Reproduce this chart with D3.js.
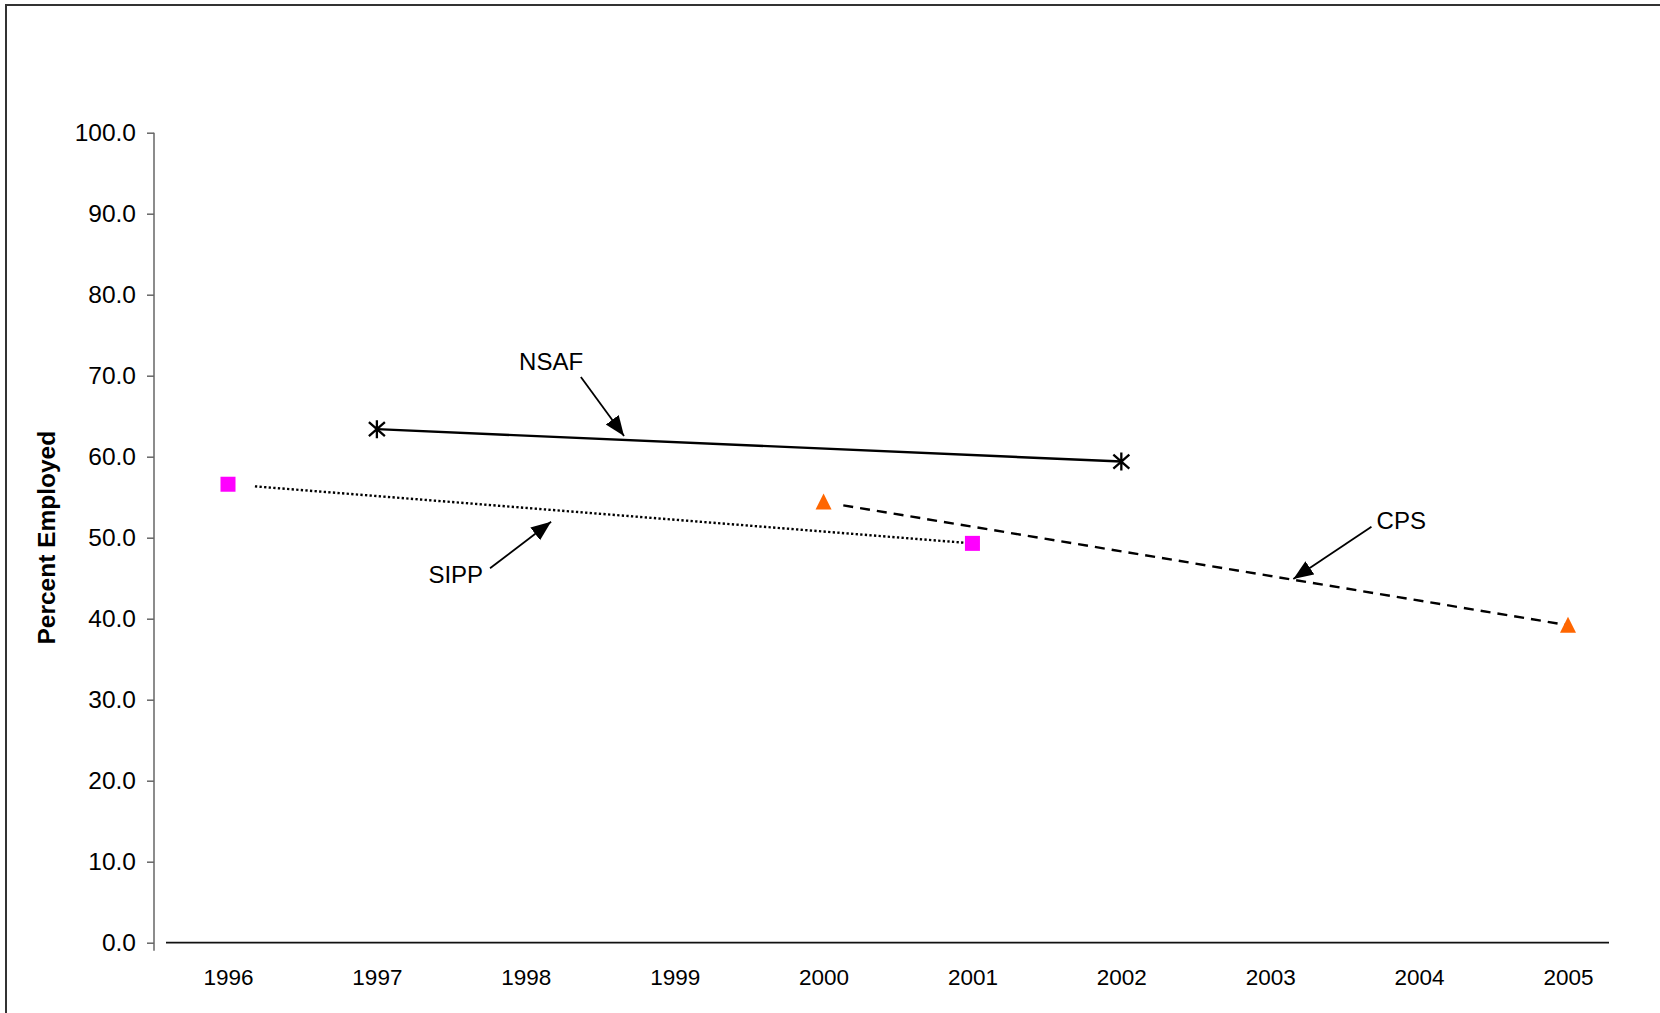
<!DOCTYPE html>
<html>
<head>
<meta charset="utf-8">
<script src="https://cdn.jsdelivr.net/npm/d3@7"></script>
<style>
  html, body { margin: 0; padding: 0; background: #fff; }
  svg { display: block; font-family: "Liberation Sans", Arial, sans-serif; }
</style>
</head>
<body>
<svg id="chart" width="1660" height="1013"></svg>
<script>
// ---- data ----
const years = [1996, 1997, 1998, 1999, 2000, 2001, 2002, 2003, 2004, 2005];
const yTicks = [0, 10, 20, 30, 40, 50, 60, 70, 80, 90, 100];
const nsafYears = [1997, 2002];
const nsafValues = [63.4, 59.4];
const sippYears = [1996, 2001];
const sippValues = [56.6, 49.3];
const cpsYears = [2000, 2005];
const cpsValues = [54.4, 39.2];
// annotations: label, text anchor (year, value), arrow tail and tip (year, value)
const annoLabels = ["NSAF", "SIPP", "CPS"];
const annoText = [[1998.17, 70.7], [1997.53, 44.46], [2003.88, 51.04]];
const annoTail = [[1998.37, 69.85], [1997.76, 46.22], [2003.68, 51.36]];
const annoTip  = [[1998.66, 62.56], [1998.17, 51.98], [2003.155, 44.9]];

// ---- layout ----
const svg = d3.select("#chart");
const x = d3.scaleLinear().domain([1996, 2005]).range([228, 1568]);
const y = d3.scaleLinear().domain([0, 100]).range([942.7, 132.7]);
const axisX = 154;

// outer frame
svg.append("rect").attr("x", 6).attr("y", 5).attr("width", 1720).attr("height", 1100)
  .attr("fill", "none").attr("stroke", "#333").attr("stroke-width", 2);

// y axis
const yAxis = d3.axisLeft(y).tickValues(yTicks).tickSize(7).tickPadding(11)
  .tickFormat(d3.format(".1f"));
const gy = svg.append("g").attr("transform", `translate(${axisX},0)`).call(yAxis);
gy.select(".domain").remove();
gy.append("line").attr("x1", 0).attr("x2", 0).attr("y1", y(100)).attr("y2", y(0) + 8)
  .attr("stroke", "#666").attr("stroke-width", 1.5);
gy.selectAll(".tick line").attr("stroke", "#666").attr("stroke-width", 1.5);
gy.selectAll(".tick text").attr("fill", "#000").attr("font-size", 24.5)
  .attr("font-family", "'Liberation Sans', Arial, sans-serif");

// x axis
const xAxis = d3.axisBottom(x).tickValues(years).tickSize(0).tickPadding(26)
  .tickFormat(d3.format("d"));
const gx = svg.append("g").attr("transform", `translate(0,${y(0)})`).call(xAxis);
gx.select(".domain").remove();
gx.append("line").attr("x1", 166).attr("x2", 1609).attr("y1", 0).attr("y2", 0)
  .attr("stroke", "#111").attr("stroke-width", 1.8);
gx.selectAll(".tick text").attr("fill", "#000").attr("font-size", 22.5)
  .attr("font-family", "'Liberation Sans', Arial, sans-serif");

// y title
svg.append("text")
  .attr("transform", `translate(55,${(y(0) + y(100)) / 2 + 0}) rotate(-90)`)
  .attr("text-anchor", "middle").attr("font-weight", "bold").attr("font-size", 24.5)
  .text("Percent Employed");

// helper: line between two data points, with a trimmed start (in px)
function seg(xs, vs, trimStart) {
  const x0 = x(xs[0]), y0 = y(vs[0]), x1 = x(xs[1]), y1 = y(vs[1]);
  const len = Math.hypot(x1 - x0, y1 - y0);
  const t = trimStart / len;
  return [[x0 + (x1 - x0) * t, y0 + (y1 - y0) * t], [x1, y1]];
}
const line = d3.line();

// series lines
svg.append("path").attr("d", line(seg(nsafYears, nsafValues, 0)))
  .attr("fill", "none").attr("stroke", "#000").attr("stroke-width", 2.4);
svg.append("path").attr("d", line(seg(sippYears, sippValues, 27)))
  .attr("fill", "none").attr("stroke", "#000").attr("stroke-width", 2.4)
  .attr("stroke-dasharray", "2.3,2.3");
svg.append("path").attr("d", line(seg(cpsYears, cpsValues, 20)))
  .attr("fill", "none").attr("stroke", "#000").attr("stroke-width", 2.4)
  .attr("stroke-dasharray", "10,7");

// markers
const nsafPts = nsafYears.map((d, i) => [d, nsafValues[i]]);
const sippPts = sippYears.map((d, i) => [d, sippValues[i]]);
const cpsPts = cpsYears.map((d, i) => [d, cpsValues[i]]);

svg.selectAll(".star").data(nsafPts).enter().append("path")
  .attr("transform", d => `translate(${x(d[0])},${y(d[1])})`)
  .attr("d", "M-8,-7L8,7M-8,7L8,-7M0,-9L0,9")
  .attr("stroke", "#000").attr("stroke-width", 2.3).attr("fill", "none");

svg.selectAll(".sq").data(sippPts).enter().append("rect")
  .attr("x", d => x(d[0]) - 7.5).attr("y", d => y(d[1]) - 7.5)
  .attr("width", 15).attr("height", 15).attr("fill", "#FF00FF");

svg.selectAll(".tri").data(cpsPts).enter().append("path")
  .attr("transform", d => `translate(${x(d[0])},${y(d[1])})`)
  .attr("d", "M0,-8.5L8,7.5L-8,7.5Z").attr("fill", "#FF6600");

// arrow marker
svg.append("defs").append("marker").attr("id", "arrow")
  .attr("markerUnits", "userSpaceOnUse").attr("markerWidth", 24).attr("markerHeight", 20)
  .attr("refX", 20).attr("refY", 8).attr("orient", "auto")
  .append("path").attr("d", "M0,0L20,8L0,16Z").attr("fill", "#000");

annoLabels.forEach((lab, i) => {
  svg.append("line")
    .attr("x1", x(annoTail[i][0])).attr("y1", y(annoTail[i][1]))
    .attr("x2", x(annoTip[i][0])).attr("y2", y(annoTip[i][1]))
    .attr("stroke", "#000").attr("stroke-width", 1.8).attr("marker-end", "url(#arrow)");
  svg.append("text").attr("x", x(annoText[i][0])).attr("y", y(annoText[i][1]))
    .attr("text-anchor", "middle").attr("font-size", 24).attr("fill", "#000").text(lab);
});
</script>
</body>
</html>
